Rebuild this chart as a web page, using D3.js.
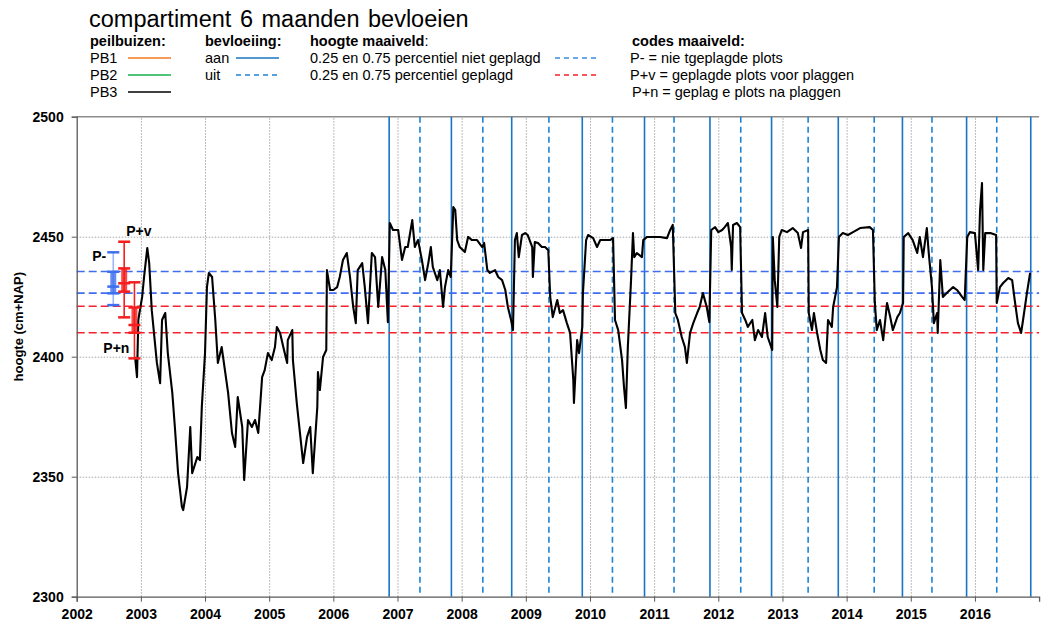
<!DOCTYPE html>
<html>
<head>
<meta charset="utf-8">
<script src="https://cdn.jsdelivr.net/npm/d3@7"></script>
<style>
body { margin: 0; background: #fff; }
text { font-family: "Liberation Sans", Arial, sans-serif; }
</style>
</head>
<body>
<div class="chart"></div>
<script>
// groundwater level PB3 (decimal year, cm+NAP)
var years = [2002.91, 2002.94, 2002.96, 2003.02, 2003.05, 2003.10, 2003.13, 2003.17, 2003.25, 2003.30,
    2003.33, 2003.38, 2003.42, 2003.49, 2003.53, 2003.58, 2003.64, 2003.66, 2003.72, 2003.77,
    2003.80, 2003.88, 2003.92, 2003.95, 2004.00, 2004.03, 2004.06, 2004.11, 2004.16, 2004.20,
    2004.26, 2004.31, 2004.36, 2004.42, 2004.47, 2004.51, 2004.58, 2004.61, 2004.67, 2004.73,
    2004.78, 2004.83, 2004.89, 2004.93, 2004.98, 2005.04, 2005.09, 2005.12, 2005.17, 2005.22,
    2005.28, 2005.29, 2005.36, 2005.37, 2005.43, 2005.48, 2005.53, 2005.59, 2005.64, 2005.68,
    2005.75, 2005.76, 2005.79, 2005.84, 2005.89, 2005.90, 2005.95, 2006.00, 2006.06, 2006.10,
    2006.15, 2006.21, 2006.26, 2006.31, 2006.35, 2006.38, 2006.45, 2006.49, 2006.54, 2006.60,
    2006.65, 2006.70, 2006.76, 2006.81, 2006.85, 2006.88, 2006.93, 2007.01, 2007.07, 2007.12,
    2007.16, 2007.23, 2007.27, 2007.32, 2007.38, 2007.43, 2007.48, 2007.52, 2007.55, 2007.62,
    2007.66, 2007.71, 2007.74, 2007.79, 2007.83, 2007.87, 2007.90, 2007.93, 2007.97, 2008.05,
    2008.10, 2008.16, 2008.24, 2008.32, 2008.35, 2008.40, 2008.44, 2008.52, 2008.57, 2008.63,
    2008.68, 2008.72, 2008.77, 2008.80, 2008.83, 2008.86, 2008.89, 2008.94, 2008.99, 2009.03,
    2009.10, 2009.11, 2009.14, 2009.19, 2009.25, 2009.30, 2009.35, 2009.38, 2009.42, 2009.49,
    2009.53, 2009.58, 2009.64, 2009.69, 2009.74, 2009.75, 2009.80, 2009.83, 2009.88, 2009.89,
    2009.94, 2009.97, 2010.05, 2010.11, 2010.16, 2010.23, 2010.31, 2010.36, 2010.39, 2010.44,
    2010.50, 2010.53, 2010.56, 2010.59, 2010.64, 2010.67, 2010.69, 2010.73, 2010.81, 2010.83,
    2010.89, 2010.98, 2011.09, 2011.20, 2011.25, 2011.29, 2011.33, 2011.37, 2011.43, 2011.48,
    2011.51, 2011.56, 2011.61, 2011.67, 2011.71, 2011.76, 2011.82, 2011.86, 2011.89, 2011.95,
    2012.00, 2012.06, 2012.10, 2012.15, 2012.20, 2012.21, 2012.23, 2012.29, 2012.34, 2012.37,
    2012.42, 2012.46, 2012.53, 2012.57, 2012.62, 2012.68, 2012.73, 2012.77, 2012.84, 2012.85,
    2012.88, 2012.92, 2012.95, 2012.99, 2013.07, 2013.16, 2013.24, 2013.29, 2013.32, 2013.40,
    2013.41, 2013.46, 2013.49, 2013.54, 2013.59, 2013.63, 2013.68, 2013.71, 2013.77, 2013.79,
    2013.85, 2013.88, 2013.94, 2014.02, 2014.10, 2014.21, 2014.36, 2014.41, 2014.44, 2014.47,
    2014.52, 2014.57, 2014.63, 2014.68, 2014.72, 2014.79, 2014.83, 2014.88, 2014.89, 2014.96,
    2015.03, 2015.10, 2015.14, 2015.19, 2015.25, 2015.28, 2015.33, 2015.36, 2015.41, 2015.42,
    2015.46, 2015.50, 2015.56, 2015.61, 2015.66, 2015.72, 2015.80, 2015.84, 2015.88, 2015.92,
    2016.00, 2016.05, 2016.08, 2016.11, 2016.13, 2016.16, 2016.24, 2016.33, 2016.34, 2016.39,
    2016.44, 2016.52, 2016.58, 2016.62, 2016.67, 2016.72, 2016.75, 2016.81, 2016.86];
var levels = [2399.9, 2391.5, 2415.3, 2424.9, 2433.2, 2445.3, 2439.0, 2419.4, 2397.4, 2389.0,
    2415.3, 2418.2, 2401.5, 2384.9, 2370.7, 2351.5, 2337.4, 2336.1, 2345.7, 2370.7,
    2351.5, 2358.2, 2356.9, 2379.0, 2401.5, 2429.0, 2434.9, 2433.2, 2415.3, 2397.4,
    2404.0, 2394.4, 2384.9, 2368.2, 2362.4, 2383.2, 2370.7, 2348.6, 2373.6, 2370.7,
    2373.6, 2368.2, 2391.5, 2394.4, 2401.5, 2398.6, 2404.0, 2412.4, 2409.9, 2404.0,
    2397.4, 2406.9, 2411.1, 2398.6, 2380.7, 2368.2, 2355.7, 2366.5, 2370.7, 2351.5,
    2379.0, 2393.6, 2386.1, 2399.9, 2402.8, 2436.1, 2427.8, 2427.8, 2429.0, 2433.2,
    2440.3, 2443.2, 2433.2, 2420.7, 2414.0, 2436.1, 2439.0, 2429.0, 2414.0, 2443.2,
    2441.5, 2420.7, 2441.5, 2436.1, 2414.4, 2455.7, 2452.8, 2452.8, 2440.3, 2445.7,
    2445.7, 2456.9, 2445.7, 2448.6, 2440.3, 2431.9, 2439.0, 2445.7, 2437.4, 2431.9,
    2436.1, 2420.7, 2429.0, 2436.1, 2433.2, 2462.4, 2461.1, 2448.6, 2445.7, 2443.6,
    2449.9, 2448.6, 2448.6, 2445.7, 2447.4, 2436.1, 2434.9, 2436.1, 2433.2, 2431.9,
    2427.8, 2420.7, 2415.3, 2411.1, 2448.6, 2451.5, 2441.5, 2450.7, 2451.5, 2450.7,
    2445.7, 2433.2, 2447.8, 2447.4, 2445.7, 2445.7, 2444.4, 2424.9, 2416.5, 2423.6,
    2418.2, 2419.4, 2414.0, 2409.9, 2390.3, 2380.7, 2406.9, 2401.5, 2412.4, 2426.5,
    2448.6, 2450.7, 2449.4, 2445.7, 2448.6, 2448.6, 2448.6, 2449.4, 2415.3, 2411.1,
    2398.6, 2387.4, 2378.6, 2404.0, 2431.9, 2451.5, 2441.5, 2443.2, 2441.5, 2448.6,
    2449.9, 2449.9, 2449.9, 2449.4, 2452.8, 2454.9, 2418.2, 2415.3, 2408.2, 2404.0,
    2397.4, 2409.9, 2414.0, 2418.2, 2420.7, 2426.5, 2420.7, 2414.4, 2452.8, 2454.0,
    2451.9, 2452.8, 2454.0, 2455.7, 2445.7, 2436.1, 2454.9, 2455.7, 2454.0, 2418.2,
    2415.3, 2412.4, 2415.3, 2406.9, 2411.1, 2408.2, 2418.2, 2408.2, 2402.8, 2449.9,
    2431.9, 2420.7, 2449.9, 2452.8, 2451.9, 2453.6, 2451.5, 2445.3, 2451.9, 2452.8,
    2418.2, 2411.1, 2418.2, 2409.9, 2402.8, 2398.6, 2397.4, 2415.3, 2412.4, 2420.7,
    2429.0, 2449.9, 2451.5, 2450.7, 2451.9, 2453.6, 2454.0, 2452.8, 2422.4, 2411.1,
    2415.3, 2406.9, 2422.4, 2416.5, 2411.1, 2416.5, 2418.2, 2422.4, 2449.9, 2451.5,
    2448.6, 2443.2, 2449.9, 2441.5, 2453.6, 2443.2, 2429.0, 2414.0, 2418.2, 2409.9,
    2440.3, 2424.9, 2426.5, 2427.8, 2429.0, 2427.8, 2424.9, 2423.6, 2449.9, 2451.9,
    2451.5, 2436.1, 2461.1, 2472.4, 2436.1, 2451.5, 2451.5, 2450.7, 2422.4, 2429.0,
    2430.7, 2432.8, 2431.9, 2423.6, 2414.0, 2409.9, 2415.3, 2426.5, 2434.9];

// irrigation switched on / off
var irrigationOn = [2006.87, 2007.84, 2008.78, 2009.88, 2010.85, 2011.87, 2012.83, 2013.87, 2014.87, 2015.87, 2016.87];
var irrigationOff = [2007.35, 2008.33, 2009.36, 2010.35, 2011.31, 2012.35, 2013.40, 2014.43, 2015.33, 2016.34];

// 0.25 / 0.75 percentiles of surface level
var pctNotStripped = [2426.5, 2435.5];
var pctStripped = [2410, 2421];

// surface level codes
var codes = ["P-", "P+v", "P+n"];
var codeDates = [2002.57, 2002.74, 2002.90];
var codeMin = [2421.5, 2416.4, 2399.3];
var codeQ1 = [2426.4, 2427.1, 2410.0];
var codeMed = [2429.2, 2430.6, 2413.2];
var codeQ3 = [2435.4, 2436.8, 2420.5];
var codeMax = [2443.5, 2447.9, 2431.0];

var yearTicks = d3.range(2002, 2017);
var levelTicks = [2300, 2350, 2400, 2450, 2500];

var svg = d3.select(".chart")
    .append("svg")
    .attr("width", 1044)
    .attr("height", 624);

var pLeft = 76.7, pRight = 1039.1, pTop = 116.7, pBottom = 596.7;

var x = d3.scaleLinear().domain([2002, 2017]).range([pLeft, pRight]);
var y = d3.scaleLinear().domain([2300, 2500]).range([pBottom, pTop]);

svg.append("clipPath").attr("id", "plot")
    .append("rect")
    .attr("x", pLeft).attr("y", pTop)
    .attr("width", pRight - pLeft).attr("height", pBottom - pTop);

// grid
svg.append("g")
    .attr("transform", "translate(0," + pBottom + ")")
    .call(d3.axisBottom(x).tickValues(yearTicks.slice(1)).tickSize(-(pBottom - pTop)).tickFormat(""))
    .call(g => g.select(".domain").remove())
    .selectAll("line")
    .style("stroke", "#a6a6a6")
    .style("stroke-width", 1)
    .style("stroke-dasharray", "1.5,1.5");

svg.append("g")
    .attr("transform", "translate(" + pLeft + ",0)")
    .call(d3.axisLeft(y).tickValues([2350, 2400, 2450]).tickSize(-(pRight - pLeft)).tickFormat(""))
    .call(g => g.select(".domain").remove())
    .selectAll("line")
    .style("stroke", "#a6a6a6")
    .style("stroke-width", 1)
    .style("stroke-dasharray", "1.5,1.5");

svg.append("line")
    .attr("x1", pLeft).attr("x2", pRight)
    .attr("y1", y(2500)).attr("y2", y(2500))
    .style("stroke", "#8c8c8c")
    .style("stroke-width", 1.5);

// irrigation lines
svg.selectAll(".on").data(irrigationOn).enter()
    .append("line")
    .attr("x1", d => x(d)).attr("x2", d => x(d))
    .attr("y1", pTop).attr("y2", pBottom)
    .style("stroke", "#1874c6")
    .style("stroke-width", 1.6);

svg.selectAll(".off").data(irrigationOff).enter()
    .append("line")
    .attr("x1", d => x(d)).attr("x2", d => x(d))
    .attr("y1", pTop).attr("y2", pBottom)
    .style("stroke", "#1f83d4")
    .style("stroke-width", 1.6)
    .style("stroke-dasharray", "6,4");

// percentile lines
svg.selectAll(".pn").data(pctNotStripped).enter()
    .append("line")
    .attr("x1", pLeft).attr("x2", pRight)
    .attr("y1", d => y(d)).attr("y2", d => y(d))
    .style("stroke", "#3f6ef0")
    .style("stroke-width", 1.6)
    .style("stroke-dasharray", "8,4");

svg.selectAll(".ps").data(pctStripped).enter()
    .append("line")
    .attr("x1", pLeft).attr("x2", pRight)
    .attr("y1", d => y(d)).attr("y2", d => y(d))
    .style("stroke", "#f5222d")
    .style("stroke-width", 1.6)
    .style("stroke-dasharray", "8,4");

// PB3 line
var pts = years.map((d, i) => [d, levels[i]]);
svg.append("path")
    .datum(pts)
    .attr("clip-path", "url(#plot)")
    .attr("d", d3.line().x(d => x(d[0])).y(d => y(d[1])))
    .style("fill", "none")
    .style("stroke", "#000")
    .style("stroke-width", 2.1)
    .style("stroke-linejoin", "round");

// code bars
var boxColor = ["#3d6ff0", "#f51d1d", "#f51d1d"];
var whiskColor = ["#9fb6f5", "#f51d1d", "#f51d1d"];
codes.forEach(function (c, i) {
    var cx = x(codeDates[i]);
    svg.append("line")
        .attr("x1", cx).attr("x2", cx)
        .attr("y1", y(codeMax[i])).attr("y2", y(codeMin[i]))
        .style("stroke", whiskColor[i])
        .style("stroke-width", 1.6);
    svg.append("rect")
        .attr("x", cx - 3).attr("y", y(codeQ3[i]))
        .attr("width", 6).attr("height", y(codeQ1[i]) - y(codeQ3[i]))
        .style("fill", boxColor[i])
        .style("opacity", 0.8);
    var caps = [codeMin[i], codeQ1[i], codeMed[i], codeQ3[i], codeMax[i]];
    caps.forEach(function (v) {
        svg.append("line")
            .attr("x1", cx - 6).attr("x2", cx + 6)
            .attr("y1", y(v)).attr("y2", y(v))
            .style("stroke", boxColor[i])
            .style("stroke-width", 2.5);
    });
});

svg.append("text")
    .attr("x", x(codeDates[0]) - 7).attr("y", y(codeMax[0]) + 9)
    .attr("text-anchor", "end")
    .text(codes[0])
    .style("font-size", "14px").style("font-weight", "bold");
svg.append("text")
    .attr("x", x(codeDates[1]) + 2).attr("y", y(codeMax[1]) - 6)
    .text(codes[1])
    .style("font-size", "14px").style("font-weight", "bold");
svg.append("text")
    .attr("x", x(codeDates[2]) - 5).attr("y", y(codeMin[2]) - 5)
    .attr("text-anchor", "end")
    .text(codes[2])
    .style("font-size", "14px").style("font-weight", "bold");

// axes
var yAxis = svg.append("g")
    .attr("transform", "translate(" + pLeft + ",0)")
    .call(d3.axisLeft(y).tickValues(levelTicks).tickSize(5).tickPadding(8).tickFormat(d3.format("d")));
yAxis.select(".domain").style("stroke", "#595959").style("stroke-width", 1.3);
yAxis.selectAll(".tick line").style("stroke", "#595959");
yAxis.selectAll("text")
    .style("font-size", "14px").style("font-weight", "bold")
    .style("font-family", "'Liberation Sans', Arial, sans-serif")
    .attr("fill", "#000");

var xAxis = svg.append("g")
    .attr("transform", "translate(0," + pBottom + ")")
    .call(d3.axisBottom(x).tickValues(yearTicks).tickSize(5).tickPadding(7).tickFormat(d3.format("d")));
xAxis.select(".domain").style("stroke", "#595959").style("stroke-width", 1.3);
xAxis.selectAll(".tick line").style("stroke", "#595959");
xAxis.selectAll("text")
    .style("font-size", "14px").style("font-weight", "bold")
    .style("font-family", "'Liberation Sans', Arial, sans-serif")
    .attr("fill", "#000");

svg.append("text")
    .attr("transform", "translate(23," + ((pTop + pBottom) / 2 - 30) + ") rotate(-90)")
    .attr("text-anchor", "middle")
    .text("hoogte (cm+NAP)")
    .style("font-size", "13px").style("font-weight", "bold");

// title and legend
svg.append("text")
    .attr("x", 89).attr("y", 27)
    .text("compartiment 6 maanden bevloeien")
    .style("font-size", "23.5px")
    .style("word-spacing", "2px");

var hdr = [["peilbuizen:", 90], ["bevloeiing:", 205], ["codes maaiveld:", 632]];
hdr.forEach(function (h) {
    svg.append("text").attr("x", h[1]).attr("y", 46).text(h[0])
        .style("font-size", "14.5px").style("font-weight", "bold");
});
var hm = svg.append("text").attr("x", 310).attr("y", 46).style("font-size", "14.5px");
hm.append("tspan").text("hoogte maaiveld").style("font-weight", "bold");
hm.append("tspan").text(":");

var rowY = [63, 80, 97];
var pb = [["PB1", "#f47a20"], ["PB2", "#16b04a"], ["PB3", "#000"]];
pb.forEach(function (p, i) {
    svg.append("text").attr("x", 90).attr("y", rowY[i]).text(p[0]).style("font-size", "14.5px");
    svg.append("line")
        .attr("x1", 128).attr("x2", 171)
        .attr("y1", rowY[i] - 5).attr("y2", rowY[i] - 5)
        .style("stroke", p[1]).style("stroke-width", 1.6);
});

svg.append("text").attr("x", 205).attr("y", rowY[0]).text("aan").style("font-size", "14.5px");
svg.append("line").attr("x1", 236).attr("x2", 279).attr("y1", rowY[0] - 5).attr("y2", rowY[0] - 5)
    .style("stroke", "#1874c6").style("stroke-width", 1.6);
svg.append("text").attr("x", 205).attr("y", rowY[1]).text("uit").style("font-size", "14.5px");
svg.append("line").attr("x1", 236).attr("x2", 279).attr("y1", rowY[1] - 5).attr("y2", rowY[1] - 5)
    .style("stroke", "#1f83d4").style("stroke-width", 1.6).style("stroke-dasharray", "5,4");

svg.append("text").attr("x", 310).attr("y", rowY[0]).text("0.25 en 0.75 percentiel niet geplagd").style("font-size", "14.5px");
svg.append("line").attr("x1", 555).attr("x2", 598).attr("y1", rowY[0] - 5).attr("y2", rowY[0] - 5)
    .style("stroke", "#3f8ae0").style("stroke-width", 1.6).style("stroke-dasharray", "5,4");
svg.append("text").attr("x", 310).attr("y", rowY[1]).text("0.25 en 0.75 percentiel geplagd").style("font-size", "14.5px");
svg.append("line").attr("x1", 555).attr("x2", 598).attr("y1", rowY[1] - 5).attr("y2", rowY[1] - 5)
    .style("stroke", "#f5222d").style("stroke-width", 1.6).style("stroke-dasharray", "5,4");

svg.append("text").attr("x", 630).attr("y", rowY[0]).text("P- = nie tgeplagde plots").style("font-size", "14.5px");
svg.append("text").attr("x", 630).attr("y", rowY[1]).text("P+v = geplagde plots voor plaggen").style("font-size", "14.5px");
svg.append("text").attr("x", 632).attr("y", rowY[2]).text("P+n = geplag e plots na plaggen").style("font-size", "14.5px");
</script>
</body>
</html>
